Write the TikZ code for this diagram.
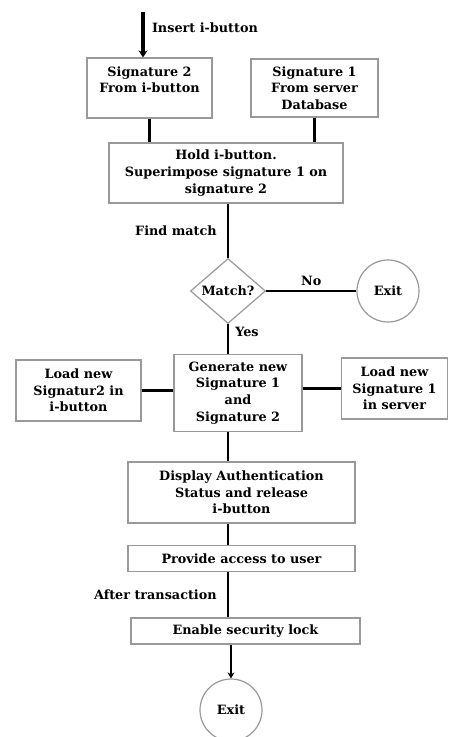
\documentclass[tikz,border=0pt]{standalone}
\usepackage{fontspec}
\setmainfont{DejaVu Serif}
\usetikzlibrary{shapes.geometric,arrows.meta}
\tikzstyle{block}=[rectangle,draw=black!40,line width=1.2pt,align=center,inner sep=1pt,font=\bfseries\fontsize{12.8}{16.7}\selectfont]
\tikzstyle{decision}=[diamond,aspect=1.15,draw=black!40,line width=1.2pt,inner sep=0pt,minimum width=75pt,minimum height=65pt,font=\bfseries\fontsize{12.8}{14}\selectfont]
\tikzstyle{term}=[circle,draw=black!40,line width=1.2pt,minimum size=62pt,inner sep=0pt,font=\bfseries\fontsize{12.8}{14}\selectfont]
\tikzstyle{data}=[align=center,inner sep=2pt,font=\bfseries\fontsize{12.8}{14}\selectfont]
\tikzstyle{flow}=[line width=2.6pt]
\tikzstyle{io}=[inner sep=0pt]

\begin{document}
\begin{tikzpicture}[x=1pt,y=-1pt]
  \useasboundingbox (0,0) rectangle (448,737);
  \node[io] (in) at (143,11) {};
  \node[block,minimum width=125pt,minimum height=60pt] (sigtwo) at (149.5,88) {Signature 2\\From i-button\\\mbox{}};
  \node[block,minimum width=127pt,minimum height=58pt] (sigone) at (314.5,88) {Signature 1\\From server\\Database};
  \node[block,minimum width=234pt,minimum height=60pt] (hold) at (226,173) {Hold i-button.\\Superimpose signature 1 on\\signature 2};
  \node[decision] (match) at (228,291) {Match?};
  \node[term] (exitno) at (388,291) {Exit};
  \node[block,minimum width=128pt,minimum height=77pt] (gen) at (238,393) {Generate new\\Signature 1\\and\\Signature 2};
  \node[block,minimum width=125pt,minimum height=61pt] (loadi) at (78.5,390.5) {Load new\\Signatur2 in\\i-button};
  \node[block,minimum width=106pt,minimum height=61pt] (loads) at (394.5,388.5) {Load new\\Signature 1\\in server};
  \node[block,minimum width=227pt,minimum height=61pt] (disp) at (241.5,492.5) {Display Authentication\\Status and release\\i-button};
  \node[block,minimum width=227pt,minimum height=26pt] (prov) at (241.5,558.5) {Provide access to user};
  \node[block,minimum width=229pt,minimum height=26pt] (lock) at (245.5,631) {Enable security lock};
  \node[term] (exitend) at (231,710) {Exit};

  \draw[flow,line width=4pt,-{Stealth[length=7pt,width=9pt]}] (in) -- node[data,right=5pt,pos=0.35] {Insert i-button} (in |- sigtwo.north);
  \draw[flow] (sigtwo.south) -- (sigtwo.south |- hold.north);
  \draw[flow] (sigone.south) -- (sigone.south |- hold.north);
  \draw[flow] (hold.south -| match) -- node[data,left=8pt] {Find match} (match.north);
  \draw[flow] (match.east) -- node[data,above=2pt] {No} (exitno.west);
  \draw[flow] (match.south) -- node[data,right=4pt,pos=0.25] {Yes} (match.south |- gen.north);
  \draw[flow] (loadi.east) -- (loadi.east -| gen.west);
  \draw[flow] (loads.west -| gen.east) -- (loads.west);
  \draw[flow] (match |- gen.south) -- (match |- disp.north);
  \draw[flow] (match |- disp.south) -- (match |- prov.north);
  \draw[flow] (match |- prov.south) -- node[data,left=8pt] {After transaction} (match |- lock.north);
  \draw[flow,-{Stealth[length=6pt,width=7pt]}] (exitend |- lock.south) -- (exitend.north);
\end{tikzpicture}
\end{document}
